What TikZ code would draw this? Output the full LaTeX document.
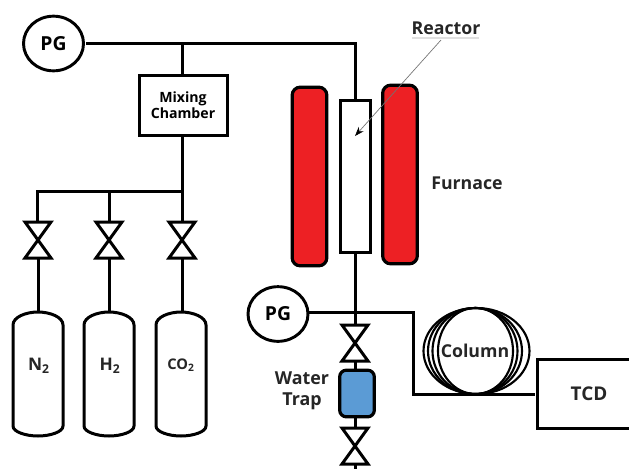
\documentclass[tikz,border=0pt]{standalone}
\usepackage{fontspec}
\setmainfont{Open Sans}
\usetikzlibrary{arrows.meta,shapes.geometric}
\definecolor{furn}{HTML}{ED2024}
\definecolor{trapblue}{HTML}{5B9BD5}
\tikzset{
 x=0.75pt,y=-0.75pt,
 pipe/.style={draw=black,line width=2.25pt},
 gauge/.style={ellipse,draw=black,line width=2.2pt,fill=white,minimum width=45pt,minimum height=41pt,inner sep=0pt,font=\fontsize{14.5}{16}\selectfont},
 boxed/.style={rectangle,draw=black,line width=2.25pt,fill=white,inner sep=0pt},
 heater/.style={rectangle,rounded corners=6pt,draw=black,line width=2.4pt,fill=furn,minimum width=26pt,minimum height=134pt,inner sep=0pt},
 lab/.style={inner sep=0pt,align=center,text=black!85},
 valve/.style={pipe,line join=miter,fill=white},
 tank/.style={pipe,fill=white},
}
\newcommand{\gasvalve}[2]{\draw[valve] (#1-13,#2-18) -- (#1+13,#2-18) -- (#1-13,#2+18) -- (#1+13,#2+18) -- cycle;}
\newcommand{\gastank}[1]{\draw[tank] (#1-25,325) .. controls (#1-25,317) and (#1-12,312) .. (#1,312) .. controls (#1+12,312) and (#1+25,317) .. (#1+25,325) -- (#1+25,426) .. controls (#1+25,432) and (#1+12,436) .. (#1,436) .. controls (#1-12,436) and (#1-25,432) .. (#1-25,426) -- cycle;}
\begin{document}
\begin{tikzpicture}
\useasboundingbox (0,0) rectangle (629,469);
\fill[white] (0,0) rectangle (629,469);
% junctions
\coordinate (j1) at (182,43);
\coordinate (j2) at (355,43);
\coordinate (j3) at (182,191);
\coordinate (j4) at (37,191);
\coordinate (j5) at (109,191);
\coordinate (v1) at (38,240);
\coordinate (v2) at (109,240);
\coordinate (v3) at (182,240);
\coordinate (t1) at (38,312);
\coordinate (t2) at (109,312);
\coordinate (t3) at (182,312);
\coordinate (v4) at (355,343);
\coordinate (v5) at (355,446);
\coordinate (bot) at (355,469);
\coordinate (k1) at (413,312);
\coordinate (k2) at (413,394);
% pipes
\draw[pipe] (86,43) -- (j2) -- (355,100);
\draw[pipe] (j1) -- (182,74);
\draw[pipe] (182,136) -- (j3) -- (j4) -- (37,222);
\draw[pipe] (j5) -- (109,222);
\draw[pipe] (j3) -- (182,222);
\draw[pipe] (v1) -- (t1);
\draw[pipe] (v2) -- (t2);
\draw[pipe] (v3) -- (t3);
\draw[pipe] (355,252) -- (v4);
\draw[pipe] (355,361) -- (v5);
\draw[pipe] (v5) -- (bot);
\draw[pipe,line join=miter] (309,312) -- (k1) -- (k2) -- (535,394);
% parts
\node[gauge] (pg1) at (53.5,43.5) {\textbf{PG}};
\node[gauge] (pg2) at (278,314) {\textbf{PG}};
\node[boxed,minimum width=66pt,minimum height=45pt,align=center,font=\fontsize{10.6}{12.4}\selectfont\bfseries] (mix) at (183,105) {Mixing\\Chamber};
\node[heater] (fl) at (309.5,176.5) {};
\node[heater] (fr) at (400,174.5) {};
\node[boxed,minimum width=22.5pt,minimum height=114pt] (reactor) at (355,176) {};
\gasvalve{38}{240}\gasvalve{109}{240}\gasvalve{182}{240}
\gasvalve{355}{343}\gasvalve{355}{446}
\gastank{38}\gastank{109}\gastank{181}
\node[rectangle,rounded corners=5pt,draw=black,line width=2.4pt,fill=trapblue,minimum width=26pt,minimum height=35pt,inner sep=0pt] (trap) at (357,393.5) {};
% column coil
\foreach \cx/\rx in {476.5/53,475/47,475/42.5,475.5/37.5}
  \draw[black,line width=1.6pt] (\cx,351) ellipse [x radius=\rx,y radius=43];
\draw[black,line width=2.25pt] (629,359) -- (537,359) -- (537,428) -- (629,428);
% labels
\node[lab,font=\fontsize{13}{14}\selectfont\bfseries] (nN) at (39,366) {N\textsubscript{2}};
\node[lab,font=\fontsize{13}{14}\selectfont\bfseries] (nH) at (110,366) {H\textsubscript{2}};
\node[lab,font=\fontsize{11}{12}\selectfont\bfseries] (nC) at (181,365) {CO\textsubscript{2}};
\node[lab,font=\fontsize{13.4}{16}\selectfont\bfseries] (wt) at (302,391) {Water\\Trap};
\node[lab,font=\fontsize{13.3}{14}\selectfont\bfseries] (col) at (475,351) {Column};
\node[lab,font=\fontsize{14.2}{16}\selectfont\bfseries] (tcd) at (589,394) {TCD};
\node[lab,font=\fontsize{13.3}{14}\selectfont\bfseries] (fu) at (467,183) {Furnace};
\node[lab,font=\fontsize{13.3}{14}\selectfont\bfseries] (re) at (446,28) {Reactor};
\draw[black!12,line width=0.8pt] (412,38) -- (479,38);
\coordinate (tip) at (355,136);
\coordinate (tail) at (441,40);
\draw[black!55,line width=0.5pt,-{Stealth[black,length=7pt,width=5pt]}] (tail) -- (tip);
\end{tikzpicture}
\end{document}
